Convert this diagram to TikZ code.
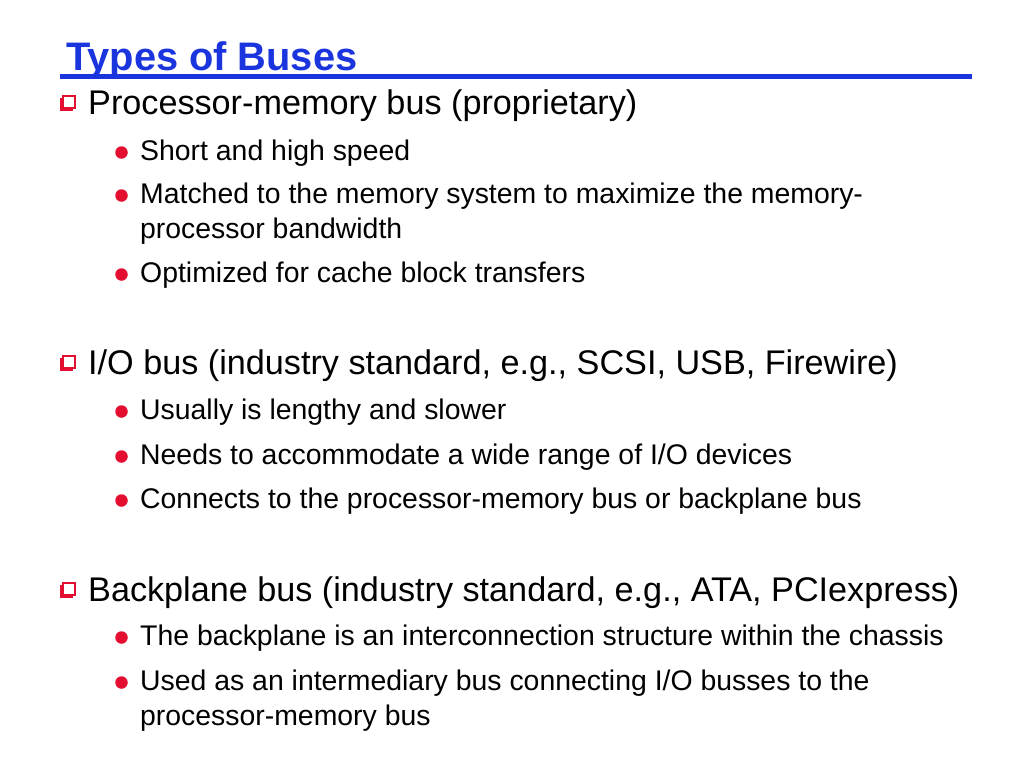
\documentclass[tikz,border=0pt]{standalone}
\usepackage{fontspec}
\setmainfont{Liberation Sans}
\usetikzlibrary{shadows}
\definecolor{titleblue}{RGB}{26,52,222}
\definecolor{bulred}{RGB}{228,14,48}
\tikzset{
  ttl/.style={anchor=base west, inner sep=0pt, text=titleblue, font=\fontsize{39.8}{46}\selectfont\bfseries},
  lone/.style={anchor=base west, inner sep=0pt, font=\fontsize{34.2}{40}\selectfont},
  ltwo/.style={anchor=base west, inner sep=0pt, font=\fontsize{28.4}{34}\selectfont},
  rdot/.style={circle, fill=bulred, inner sep=0pt, minimum size=12.5pt},
  sqbul/.style={rectangle, draw=bulred, fill=white, line width=2.2pt, inner sep=0pt, minimum size=12.5pt,
    drop shadow={shadow xshift=-2.4pt, shadow yshift=-2.4pt, fill=bulred, opacity=1}},
  uline/.style={titleblue, line width=4.5pt}
}
\begin{document}
\begin{tikzpicture}[x=1pt, y=-1pt]
\useasboundingbox[fill=white] (0,0) rectangle (1024,768);
% title
\node[ttl] (title) at (66,70.5) {Types of Buses};
\coordinate (ulA) at (60,76.5);
\coordinate (ulB) at (972,76.5);
\draw[uline] (ulA) -- (ulB);
% section 1
\node[sqbul] (s1) at (69,102) {};
\node[lone] (t1) at (88,114) {Processor-memory bus (proprietary)};
\node[rdot] (d11) at (121.5,152.5) {};
\node[ltwo] (t11) at (140,160) {Short and high speed};
\node[rdot] (d12) at (121.5,195.5) {};
\node[ltwo] (t12) at (140,203) {Matched to the memory system to maximize the memory-};
\node[ltwo] (t12b) at (140,238) {processor bandwidth};
\node[rdot] (d13) at (121.5,274.5) {};
\node[ltwo] (t13) at (140,282) {Optimized for cache block transfers};
% section 2
\node[sqbul] (s2) at (69,362) {};
\node[lone] (t2) at (88,374) {I/O bus (industry standard, e.g., SCSI, USB, Firewire)};
\node[rdot] (d21) at (121.5,411.5) {};
\node[ltwo] (t21) at (140,419) {Usually is lengthy and slower};
\node[rdot] (d22) at (121.5,456.5) {};
\node[ltwo] (t22) at (140,464) {Needs to accommodate a wide range of I/O devices};
\node[rdot] (d23) at (121.5,500.5) {};
\node[ltwo] (t23) at (140,508) {Connects to the processor-memory bus or backplane bus};
% section 3
\node[sqbul] (s3) at (69,589) {};
\node[lone] (t3) at (88,601) {Backplane bus (industry standard, e.g., ATA, PCIexpress)};
\node[rdot] (d31) at (121.5,637.5) {};
\node[ltwo] (t31) at (140,645) {The backplane is an interconnection structure within the chassis};
\node[rdot] (d32) at (121.5,682.5) {};
\node[ltwo] (t32) at (140,690) {Used as an intermediary bus connecting I/O busses to the};
\node[ltwo] (t32b) at (140,725) {processor-memory bus};
\end{tikzpicture}
\end{document}
